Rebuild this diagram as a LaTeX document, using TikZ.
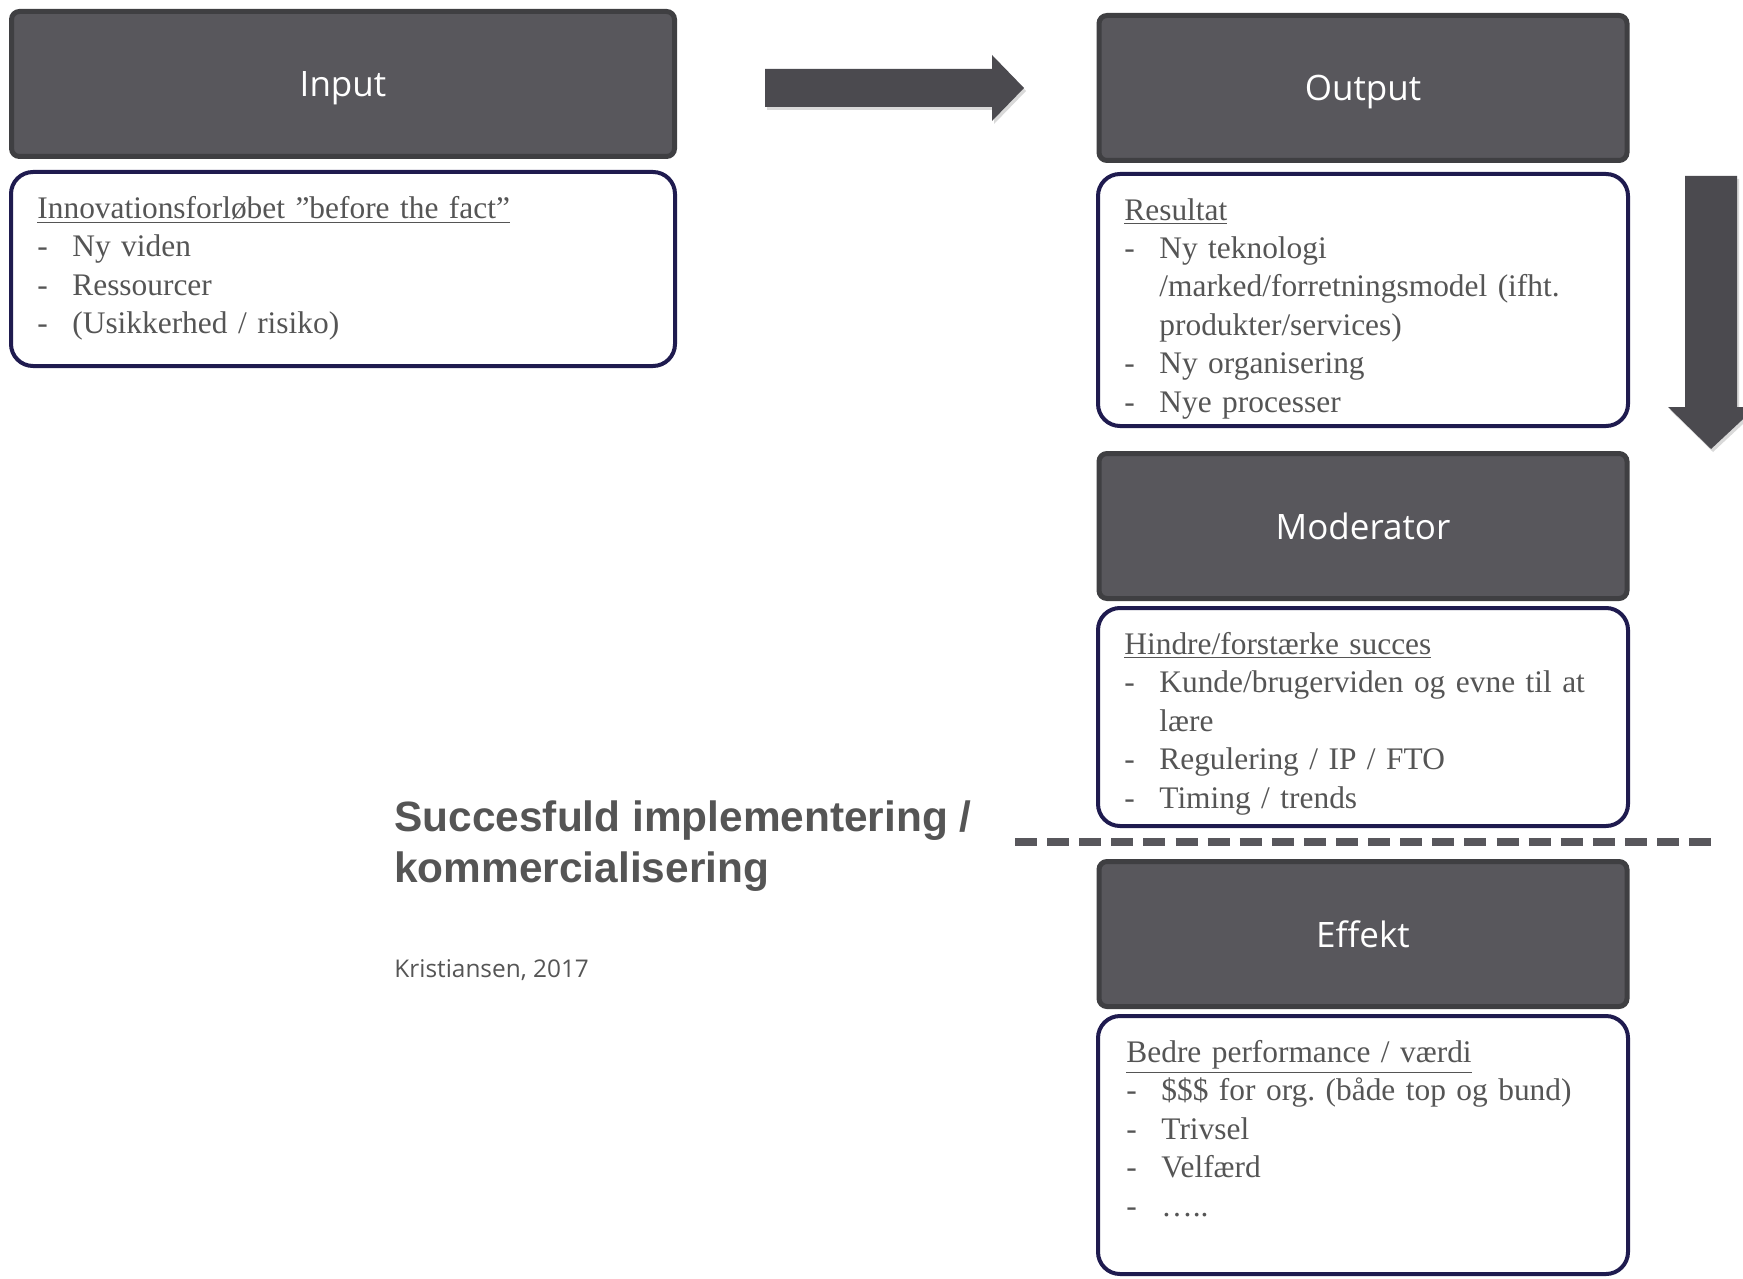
\documentclass[tikz,border=0pt]{standalone}
\usepackage{fontspec}
\setmainfont{Liberation Serif}
\newfontfamily\boxfont{Open Sans}
\newfontfamily\titlefont{Liberation Sans}
\usetikzlibrary{positioning,shadows}
\definecolor{boxgrey}{HTML}{58575C}
\definecolor{boxline}{HTML}{3F3F42}
\definecolor{navy}{HTML}{1F1B4F}
\definecolor{textgrey}{HTML}{555555}
\definecolor{arrowgrey}{HTML}{4B4A4F}
\newcommand{\itm}[1]{\par\hangindent=17.5pt\hangafter=1\makebox[17.5pt][l]{-}#1}
\frenchspacing
\begin{document}
\begin{tikzpicture}[x=0.5pt, y=-0.5pt,
  head/.style = {draw=boxline, line width=2.5pt, fill=boxgrey, rounded corners=4pt, text=white, font=\boxfont\fontsize{17.5}{21}\selectfont, minimum height=72.5pt, text depth=0pt},
  body/.style = {draw=navy, line width=2pt, fill=white, rounded corners=11pt},
  list/.style = {text=textgrey, font=\fontsize{15.7}{19.2}\selectfont, text width=240pt, align=left, inner sep=0pt, anchor=north west},
  blockarrow/.style = {fill=arrowgrey, drop shadow={shadow xshift=1pt, shadow yshift=-1.5pt, opacity=0.3}},
  dashline/.style = {draw=boxgrey, line width=4pt, dash pattern=on 11pt off 5.05pt}]
\useasboundingbox (0,0) rectangle (1743,1278);
% venstre kolonne
\node[head, minimum width=331.5pt] (in) at (343,84) {Input};
\node[body, minimum width=332pt, minimum height=97pt, below=5.5pt of in] (inb) {};
\node[list, below right=13pt and 14pt of inb.north west] (intxt) {\underline{Innovationsforløbet ”before the fact”}
  \itm{Ny viden}\itm{Ressourcer}\itm{(Usikkerhed / risiko)}};
% hoejre kolonne
\node[head, minimum width=264pt] (out) at (1363,88) {Output};
\node[body, minimum width=265pt, minimum height=126pt, below=4.5pt of out] (outb) {};
\node[list, below right=13pt and 14pt of outb.north west] (outtxt) {\underline{Resultat}
  \itm{Ny teknologi\newline /marked/forretningsmodel (ifht.\newline produkter/services)}\itm{Ny organisering}\itm{Nye processer}};
\node[head, minimum width=264pt, below=11.5pt of outb] (mod) {Moderator};
\node[body, minimum width=265pt, minimum height=109pt, below=2.5pt of mod] (modb) {};
\node[list, below right=13pt and 14pt of modb.north west] (modtxt) {\underline{Hindre/forstærke succes}
  \itm{Kunde/brugerviden og evne til at\newline lære}\itm{Regulering / IP / FTO}\itm{Timing / trends}};
\node[head, minimum width=264pt, below=15.5pt of modb] (eff) {Effekt};
\node[body, minimum width=265pt, minimum height=129pt, below=2.5pt of eff] (effb) {};
\node[list, below right=13pt and 15pt of effb.north west] (efftxt) {\underline{Bedre performance / værdi}
  \itm{\$\$\$ for org. (både top og bund)}\itm{Trivsel}\itm{Velfærd}\itm{…..}};
% pile og skillelinje
\fill[blockarrow] (765,69) -- (992,69) -- (992,55) -- (1024,88) -- (992,121) -- (992,107) -- (765,107) -- cycle;
\fill[blockarrow] (1685,176) -- (1737,176) -- (1737,407) -- (1756,407) -- (1711,449) -- (1668,407) -- (1685,407) -- cycle;
\draw[dashline] (1015,842) -- (1712,842);
% tekst
\node[text=textgrey, font=\titlefont\bfseries\fontsize{21.2}{25.5}\selectfont, align=left, inner sep=0pt, anchor=north west] (succes) at (394,800) {Succesfuld implementering /\\kommercialisering};
\node[text=textgrey, font=\boxfont\fontsize{12.2}{14}\selectfont, inner sep=0pt, anchor=base west] (kilde) at (394,977) {Kristiansen, 2017};
\end{tikzpicture}
\end{document}
